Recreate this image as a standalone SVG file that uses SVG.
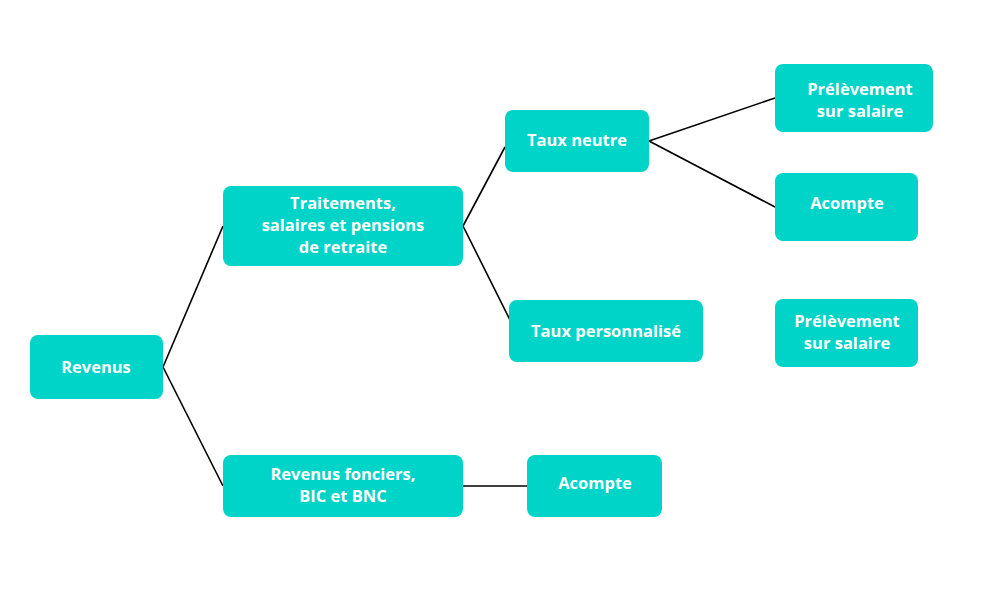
<svg xmlns="http://www.w3.org/2000/svg" width="981" height="596" viewBox="0 0 981 596">
<style>
.n rect{fill:#00D4C9;}
.n text{fill:#fff;font-family:"Open Sans","Liberation Sans",sans-serif;font-weight:bold;font-size:16.5px;text-anchor:middle;}
.c line{stroke:#000;stroke-width:1.6;}
</style>
<rect width="981" height="596" fill="#fff"/>
<g id="connectors" class="c">
<line x1="163" y1="367" x2="223" y2="226"/>
<line x1="163" y1="367" x2="223" y2="486"/>
<line x1="463" y1="226" x2="505" y2="147"/>
<line x1="463" y1="226" x2="511" y2="322"/>
<line x1="649" y1="141" x2="775" y2="98"/>
<line x1="649" y1="141" x2="775" y2="207"/>
<line x1="463" y1="486" x2="527" y2="486"/>
</g>
<g id="revenus" class="n"><rect x="30" y="335" width="133" height="64" rx="8"/><text x="96" y="373">Revenus</text></g>
<g id="traitements" class="n"><rect x="223" y="186" width="240" height="80" rx="8"/><text x="343" y="209">Traitements,</text><text x="343" y="231">salaires et pensions</text><text x="343" y="253">de retraite</text></g>
<g id="fonciers" class="n"><rect x="223" y="455" width="240" height="62" rx="8"/><text x="343" y="480">Revenus fonciers,</text><text x="343" y="502">BIC et BNC</text></g>
<g id="tauxneutre" class="n"><rect x="505" y="110" width="144" height="62" rx="8"/><text x="577" y="146">Taux neutre</text></g>
<g id="tauxperso" class="n"><rect x="509" y="300" width="194" height="62" rx="8"/><text x="606" y="337">Taux personnalisé</text></g>
<g id="acompte1" class="n"><rect x="527" y="455" width="135" height="62" rx="8"/><text x="595" y="489">Acompte</text></g>
<g id="prelev1" class="n"><rect x="775" y="64" width="158" height="68" rx="8"/><text x="860" y="95">Prélèvement</text><text x="860" y="117">sur salaire</text></g>
<g id="acompte2" class="n"><rect x="775" y="173" width="143" height="68" rx="8"/><text x="847" y="209">Acompte</text></g>
<g id="prelev2" class="n"><rect x="775" y="299" width="143" height="68" rx="8"/><text x="847" y="327">Prélèvement</text><text x="847" y="349">sur salaire</text></g>
</svg>
